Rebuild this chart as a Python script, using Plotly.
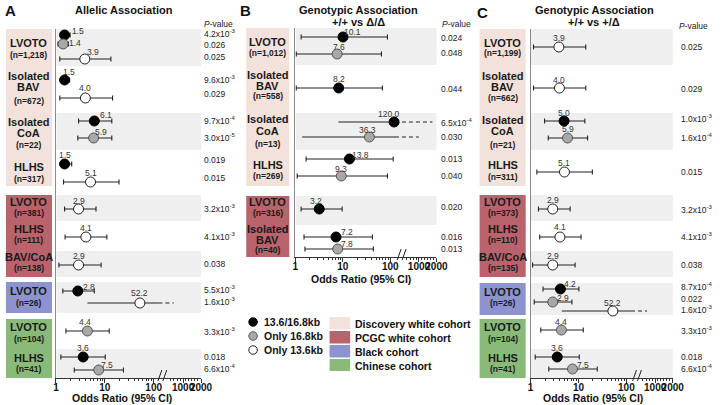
import math
import plotly.graph_objects as go

W, H = 724, 405
FONT = "Liberation Sans, Arial, Helvetica, sans-serif"

# ======================= DATA =======================
KIND_NAMES = ["13.6/16.8kb", "Only 16.8kb", "Only 13.6kb"]          # kind 0, 1, 2
COHORT_NAMES = ["Discovery white cohort", "PCGC white cohort", "Black cohort", "Chinese cohort"]
TICK_LABELS = ["1", "10", "100", "1000", "2000"]

# ---- Panel A: Allelic association ----
A_groups = ["LVOTO", "Isolated BAV", "Isolated CoA", "HLHS", "LVOTO", "HLHS", "BAV/CoA", "LVOTO", "LVOTO", "HLHS"]
A_n = ["1,218", "672", "22", "317", "381", "111", "138", "26", "104", "41"]
A_cohort = [0, 0, 0, 0, 1, 1, 1, 2, 3, 3]
A_pt_group = [0, 0, 0, 1, 1, 2, 2, 3, 3, 4, 5, 6, 7, 7, 8, 9, 9]
A_kind = [0, 1, 2, 0, 2, 0, 1, 0, 2, 2, 2, 2, 0, 2, 1, 0, 1]
A_or = [1.5, 1.4, 3.9, 1.5, 4.0, 6.1, 5.9, 1.5, 5.1, 2.9, 4.1, 2.9, 2.8, 52.2, 4.4, 3.6, 7.5]
A_lo = [1.25, 1.1, 1.2, 1.25, 1.2, 2.9, 2.8, 1.26, 1.43, 1.5, 1.54, 1.15, 1.38, 4.4, 1.6, 1.26, 2.37]
A_hi = [1.95, 1.8, 13.3, 1.9, 14.4, 13.9, 13.9, 2.1, 19.5, 6.6, 11.0, 8.4, 6.1, 257, 12.3, 10.2, 24]
A_p = ["4.2x10<sup>-3</sup>", "0.026", "0.025", "9.6x10<sup>-3</sup>", "0.029", "9.7x10<sup>-4</sup>",
       "3.0x10<sup>-5</sup>", "0.019", "0.015", "3.2x10<sup>-3</sup>", "4.1x10<sup>-3</sup>", "0.038",
       "5.5x10<sup>-3</sup>", "1.6x10<sup>-3</sup>", "3.3x10<sup>-3</sup>", "0.018", "6.6x10<sup>-4</sup>"]

# ---- Panel B: Genotypic association +/+ vs Δ/Δ ----
B_groups = ["LVOTO", "Isolated BAV", "Isolated CoA", "HLHS", "LVOTO", "Isolated BAV"]
B_n = ["1,012", "558", "13", "269", "316", "40"]
B_cohort = [0, 0, 0, 0, 1, 1]
B_pt_group = [0, 0, 1, 2, 2, 3, 3, 4, 5, 5]
B_kind = [0, 1, 0, 0, 1, 0, 1, 0, 0, 1]
B_or = [10.1, 7.6, 8.2, 120.0, 36.3, 13.8, 9.3, 3.2, 7.2, 7.8]
B_lo = [1.33, 1.05, 1.05, 8.1, 1.4, 1.69, 1.1, 1.33, 1.53, 1.6]
B_hi = [87, 65, 68, 770, 398, 115, 87, 9.7, 42, 44]
B_p = ["0.024", "0.048", "0.044", "6.5x10<sup>-4</sup>", "0.030", "0.013", "0.040", "0.020", "0.016", "0.013"]

# ---- Panel C: Genotypic association +/+ vs +/Δ ----
C_groups = ["LVOTO", "Isolated BAV", "Isolated CoA", "HLHS", "LVOTO", "HLHS", "BAV/CoA", "LVOTO", "LVOTO", "HLHS"]
C_n = ["1,199", "662", "21", "311", "373", "110", "135", "26", "104", "41"]
C_cohort = [0, 0, 0, 0, 1, 1, 1, 2, 3, 3]
C_pt_group = [0, 1, 2, 2, 3, 4, 5, 6, 7, 7, 7, 8, 9, 9]
C_kind = [2, 2, 0, 1, 2, 2, 2, 2, 0, 1, 2, 1, 0, 1]
C_or = [3.9, 4.0, 5.0, 5.9, 5.1, 2.9, 4.1, 2.9, 4.2, 2.9, 52.2, 4.4, 3.6, 7.5]
C_lo = [1.15, 1.15, 1.96, 2.34, 1.35, 1.46, 1.55, 1.1, 1.82, 1.19, 4.5, 1.63, 1.25, 2.4]
C_hi = [14.2, 14.2, 13.6, 15.5, 19.5, 6.7, 11.3, 8.5, 10.2, 7.3, 270, 12.6, 10.4, 24.7]
C_p = ["0.025", "0.029", "1.0x10<sup>-3</sup>", "1.6x10<sup>-4</sup>", "0.015", "3.2x10<sup>-3</sup>",
       "4.1x10<sup>-3</sup>", "0.038", "8.7x10<sup>-4</sup>", "0.022", "1.6x10<sup>-3</sup>",
       "3.3x10<sup>-3</sup>", "0.018", "6.6x10<sup>-4</sup>"]

# ======================= LAYOUT / STYLE (pixels) =======================
COHORT_COLORS = ["#f3e2dc", "#b9636c", "#8d93cf", "#8aba79"]
BAND_GRAY = "#efefef"
KIND_FILL = ["#000000", "#a8a8a8", "#ffffff"]
KIND_LINE = ["#000000", "#555555", "#222222"]
LOG_RANGE = 2.97            # axis spans 1 .. 10^2.97
BREAK_VALUE = 125           # CI beyond this drawn dashed (past axis break)
TICK_VALS = [1, 10, 100, 400, 930]
MINOR_VALS = [2, 3, 4, 5, 6, 7, 8, 9, 20, 30, 40, 50, 60, 70, 80, 90, 220, 260, 300, 350, 450, 520, 600, 700, 800]

PANELS = [
    dict(sfx="", letter="A", title=["Allelic Association"], title_x=123, letter_xy=(8, 11),
         x0=54, x1=202, y0=29, y1=378, box=(3, 50), px=203, phead=(203, 24), xtitle=(121, 398),
         groups=A_groups, n=A_n, cohort=A_cohort, ptg=A_pt_group, kind=A_kind,
         orr=A_or, lo=A_lo, hi=A_hi, p=A_p,
         band=[(29, 66), (66, 113), (113, 150), (150, 186), (195, 221), (221, 251), (251, 277), (282, 313), (319, 349), (349, 378)],
         shade=[1, 0, 1, 0, 1, 0, 1, 1, 0, 1],
         label_y=[[43, 55], [76, 87, 101], [122, 133, 145], [167, 179], [202, 213], [229, 240], [257, 268], [291, 303], [327, 339], [358, 369]],
         pt_y=[35, 44, 59, 80, 98, 121, 138, 164, 182, 209, 237, 265, 291, 303, 331, 357, 370],
         p_y=[34, 45, 57, 79, 94, 120, 137, 160, 178, 208, 237, 264, 289, 301, 331, 357, 368],
         dx=[13, 12, 8, 4, 0, 12, 7, 0, 0, 0, 0, 0, 11, 0, -2, 0, 8],
         dy=[-4, -1, -7, -8, -10, -6, -6, -9, -9, -8, -9, -9, -4, -10, -9, -9, -5]),
    dict(sfx="2", letter="B", title=["Genotypic Association", "+/+ vs \u0394/\u0394"], title_x=362, letter_xy=(247, 11),
         x0=298, x1=442, y0=28, y1=257, box=(248, 292), px=445, phead=(446, 24), xtitle=(365, 279),
         groups=B_groups, n=B_n, cohort=B_cohort, ptg=B_pt_group, kind=B_kind,
         orr=B_or, lo=B_lo, hi=B_hi, p=B_p,
         band=[(28, 65), (65, 113), (113, 150), (150, 186), (196, 225), (225, 257)],
         shade=[1, 0, 1, 0, 1, 0],
         label_y=[[42, 53], [75, 86, 96], [119, 131, 144], [165, 176], [202, 213], [229, 240, 250]],
         pt_y=[37, 54, 88, 122, 137, 159, 176, 209, 237, 249],
         p_y=[38, 53, 89, 122, 137, 159, 176, 207, 237, 249],
         dx=[10, 2, 0, -5, -2, 11, 0, -3, 11, 9],
         dy=[-5, -7, -9, -8, -7, -4, -7, -8, -5, -5]),
    dict(sfx="3", letter="C", title=["Genotypic Association", "+/+ vs +/\u0394"], title_x=603, letter_xy=(489, 12),
         x0=538, x1=683, y0=29, y1=378, box=(486, 533), px=689, phead=(687, 26), xtitle=(602, 398),
         groups=C_groups, n=C_n, cohort=C_cohort, ptg=C_pt_group, kind=C_kind,
         orr=C_or, lo=C_lo, hi=C_hi, p=C_p,
         band=[(29, 65), (65, 113), (113, 150), (150, 186), (195, 221), (221, 251), (251, 277), (283, 315), (319, 349), (349, 378)],
         shade=[1, 0, 1, 0, 1, 0, 1, 1, 0, 1],
         label_y=[[43, 53], [76, 87, 98], [120, 131, 145], [165, 177], [202, 213], [229, 240], [257, 268], [292, 303], [327, 339], [358, 369]],
         pt_y=[47, 88, 121, 138, 172, 209, 237, 265, 289, 302, 311, 330, 357, 369],
         p_y=[47, 89, 118, 137, 172, 209, 236, 265, 286, 299, 309, 330, 357, 368],
         dx=[0, 0, 0, 0, 0, 0, 0, 0, 10, 10, 0, 0, 0, 11],
         dy=[-9, -8, -8, -9, -9, -9, -10, -9, -5, -4, -8, -8, -9, -4]),
]


def fx(x):
    return x / W


def fy(y):
    return 1 - y / H


fig = go.Figure()
shapes = []
annotations = []
layout_axes = {}


def ann(text, x, y, size, bold=False, color="#111", xanchor="center", **kw):
    annotations.append(dict(text=("<b>%s</b>" % text) if bold else text, x=fx(x), y=fy(y),
                            xref="paper", yref="paper", showarrow=False, xanchor=xanchor,
                            yanchor="middle", font=dict(size=size, color=color, family=FONT), **kw))


for P in PANELS:
    s = P["sfx"]
    xa, ya = "x" + s, "y" + s
    # axes
    layout_axes["xaxis" + s] = dict(
        type="log", domain=[fx(P["x0"]), fx(P["x1"])], range=[0, LOG_RANGE], anchor=ya,
        showline=True, linecolor="#333", linewidth=1, ticks="outside", ticklen=4, tickcolor="#333",
        tickvals=TICK_VALS, ticktext=TICK_LABELS, tickangle=0, showgrid=False, zeroline=False,
        ticklabelstandoff=-4,
        tickfont=dict(size=10, color="#111", family=FONT, weight="bold"),
        minor=dict(tickmode="array", tickvals=MINOR_VALS, ticks="outside", ticklen=2, tickcolor="#333",
                   showgrid=False))
    layout_axes["yaxis" + s] = dict(
        domain=[fy(P["y1"]), fy(P["y0"])], range=[P["y1"], P["y0"]], anchor=xa,
        showline=True, linecolor="#8a8a8a", linewidth=1, ticks="", showticklabels=False,
        showgrid=False, zeroline=False)

    # bands + cohort boxes
    for (t, b), sh in zip(P["band"], P["shade"]):
        if sh:
            shapes.append(dict(type="rect", xref="paper", yref="paper", x0=fx(P["x0"] + 0.5), x1=fx(P["x1"]),
                               y0=fy(b), y1=fy(t), fillcolor=BAND_GRAY, line_width=0, layer="below"))
    for c in sorted(set(P["cohort"])):
        idx = [i for i, cc in enumerate(P["cohort"]) if cc == c]
        top = min(P["band"][i][0] for i in idx)
        bot = max(P["band"][i][1] for i in idx)
        shapes.append(dict(type="rect", xref="paper", yref="paper", x0=fx(P["box"][0]), x1=fx(P["box"][1]),
                           y0=fy(bot), y1=fy(top), fillcolor=COHORT_COLORS[c], line_width=0, layer="below"))
    # group labels
    cx = (P["box"][0] + P["box"][1]) / 2
    for g, (name, n, ys) in enumerate(zip(P["groups"], P["n"], P["label_y"])):
        lines = name.split(" ") if len(ys) == 3 else [name]
        for ln, yy in zip(lines, ys[:-1]):
            ann(ln, cx, yy, 11, bold=True, color="#1a1a1a")
        ann("(n=%s)" % n, cx, ys[-1], 8.5, bold=True, color="#1a1a1a")

    # dashed extensions of CIs beyond the axis break
    dx_, dy_ = [], []
    for i in range(len(P["orr"])):
        if P["hi"][i] > BREAK_VALUE:
            dx_ += [max(BREAK_VALUE, P["orr"][i]), P["hi"][i], None]
            dy_ += [P["pt_y"][i], P["pt_y"][i], None]
    if dx_:
        fig.add_trace(go.Scatter(x=dx_, y=dy_, xaxis=xa, yaxis=ya, mode="lines", hoverinfo="skip",
                                 line=dict(color="#222", width=1.1, dash="4px,3px"), showlegend=False))

    # points with CIs
    for k in range(3):
        for ext in (False, True):
            idx = [i for i in range(len(P["orr"])) if P["kind"][i] == k and (P["hi"][i] > BREAK_VALUE) == ext]
            if not idx:
                continue
            xs = [P["orr"][i] for i in idx]
            top = [min(P["hi"][i], max(BREAK_VALUE, P["orr"][i])) - P["orr"][i] for i in idx]
            bot = [P["orr"][i] - P["lo"][i] for i in idx]
            fig.add_trace(go.Scatter(
                x=xs, y=[P["pt_y"][i] for i in idx], xaxis=xa, yaxis=ya, mode="markers",
                name=KIND_NAMES[k], showlegend=False,
                marker=dict(size=10, color=KIND_FILL[k], line=dict(color=KIND_LINE[k], width=1)),
                error_x=dict(type="data", symmetric=False, array=top, arrayminus=bot,
                             color="#222", thickness=1.1, width=0 if ext else 2.5)))
    # value labels
    for i, v in enumerate(P["orr"]):
        annotations.append(dict(text="%.1f" % v, x=math.log10(v), y=P["pt_y"][i] + P["dy"][i],
                                xref=xa, yref=ya, xshift=P["dx"][i], showarrow=False,
                                font=dict(size=8.5, color="#333", family=FONT)))
    # p-values
    for i, pv in enumerate(P["p"]):
        ann(pv, P["px"], P["p_y"][i], 8.5, color="#222", xanchor="left")
    ann("<i>P</i>-value", P["phead"][0], P["phead"][1], 8.5, color="#222", xanchor="left")

    # titles
    ann(P["letter"], P["letter_xy"][0], P["letter_xy"][1], 15, bold=True, color="#111")
    for j, t in enumerate(P["title"]):
        ann(t, P["title_x"], 10 + 12 * j, 11, bold=True, color="#111")
    ann("Odds Ratio (95% CI)", P["xtitle"][0], P["xtitle"][1], 10.5, bold=True, color="#111")

    # axis break marks
    for off in (106, 111):
        bx = P["x0"] + off
        shapes.append(dict(type="line", xref="paper", yref="paper", x0=fx(bx - 2), y0=fy(P["y1"] + 3),
                           x1=fx(bx + 2), y1=fy(P["y1"] - 8), line=dict(color="#222", width=1)))

# ---------------- legend (marker kinds + cohort colours) ----------------
layout_axes["xaxis4"] = dict(domain=[0, 1], range=[0, W], visible=False, anchor="y4")
layout_axes["yaxis4"] = dict(domain=[0, 1], range=[H, 0], visible=False, anchor="x4")
LEG_Y = [322, 336, 350]
for k in range(3):
    fig.add_trace(go.Scatter(x=[255], y=[LEG_Y[k]], xaxis="x4", yaxis="y4", mode="markers",
                             showlegend=False, hoverinfo="skip",
                             marker=dict(size=8.5, color=KIND_FILL[k], line=dict(color=KIND_LINE[k], width=1))))
    ann(KIND_NAMES[k], 264, LEG_Y[k], 10.5, bold=True, color="#111", xanchor="left")
COH_Y = [(317, 329.5), (331, 343.5), (345, 357.5), (359, 371)]
for c in range(4):
    shapes.append(dict(type="rect", xref="paper", yref="paper", x0=fx(333), x1=fx(354),
                       y0=fy(COH_Y[c][1]), y1=fy(COH_Y[c][0]), fillcolor=COHORT_COLORS[c], line_width=0))
    ann(COHORT_NAMES[c], 357, (COH_Y[c][0] + COH_Y[c][1]) / 2 + 0.5, 10.5, bold=True, color="#111", xanchor="left")

fig.update_layout(
    width=W, height=H, autosize=False, margin=dict(l=0, r=0, t=0, b=0),
    paper_bgcolor="white", plot_bgcolor="rgba(0,0,0,0)", showlegend=False,
    font=dict(family=FONT), shapes=shapes, annotations=annotations, **layout_axes)

fig.write_html("out.html", config={"displayModeBar": False},
               post_script="document.body.style.margin='0';document.body.style.overflow='hidden';"
                           "document.documentElement.style.overflow='hidden';")
